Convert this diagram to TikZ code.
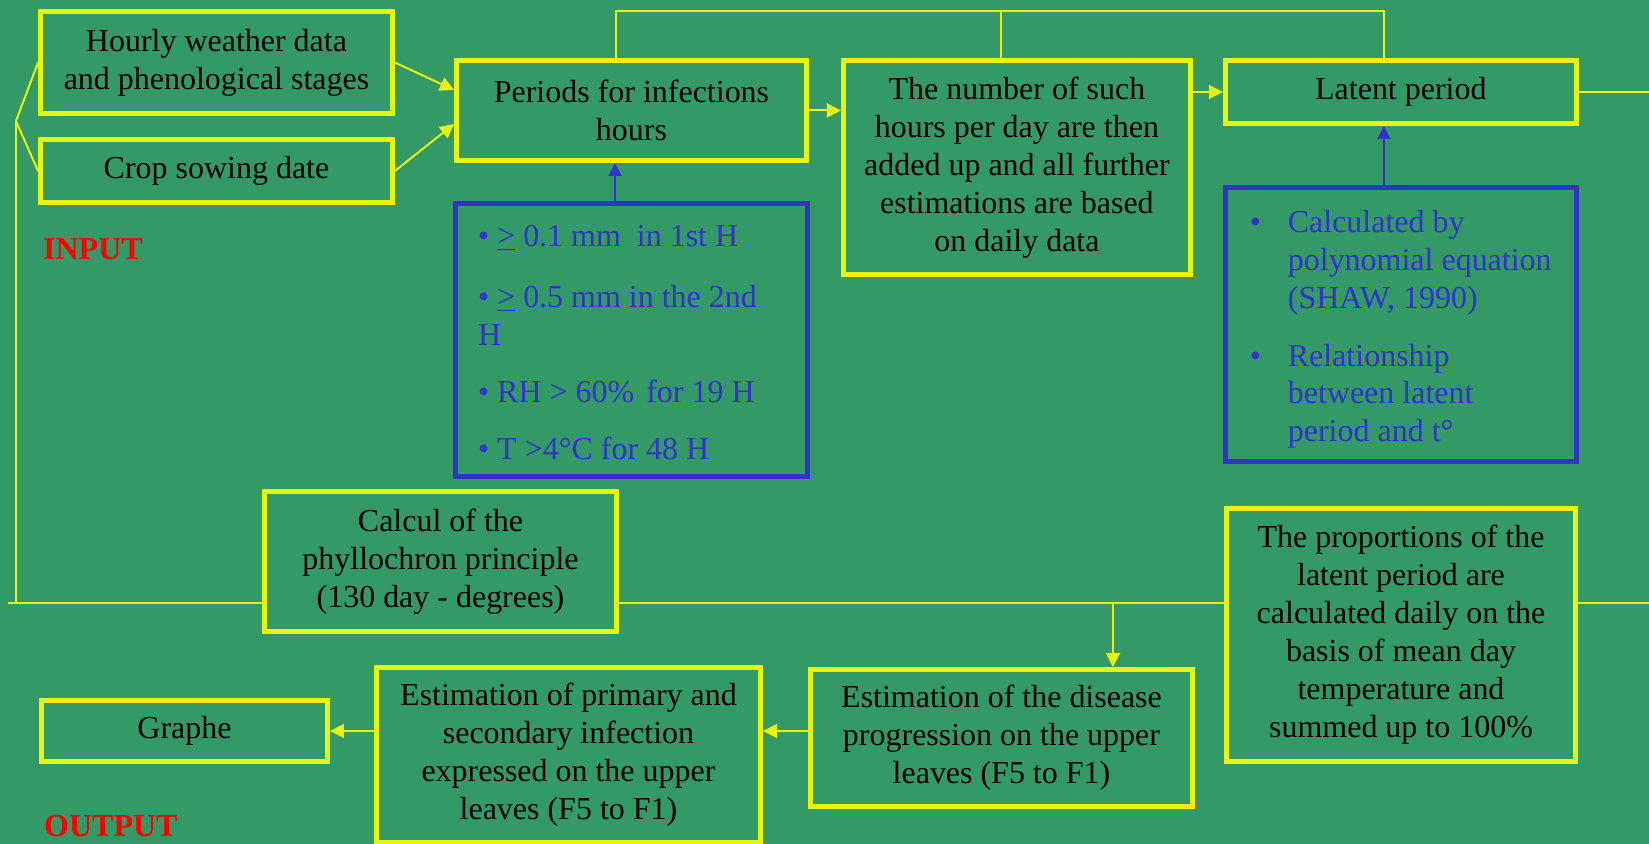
\documentclass[tikz,border=0pt]{standalone}
\usepackage{fontspec}
\setmainfont{Liberation Serif}
\usetikzlibrary{positioning,arrows.meta}
\definecolor{slide}{RGB}{51,153,102}
\definecolor{lemon}{RGB}{232,243,14}
\definecolor{ink}{RGB}{51,51,204}

\begin{document}
\begin{tikzpicture}[x=0.02cm, y=-0.02cm,
    font=\fontsize{18.2}{21.6}\selectfont,
    main/.style = {draw=lemon, line width=0.1cm, align=center, inner sep=0pt},
    crit/.style = {draw=ink, line width=0.1cm, align=flush left, inner xsep=0.45cm, text=ink},
    link/.style = {lemon, line width=0.04cm},
    arr/.style = {link, -{Triangle[length=0.28cm,width=0.28cm]}},
    blu/.style = {ink, line width=0.04cm, -{Triangle[length=0.26cm,width=0.26cm]}},
    tag/.style = {text=red, font=\fontsize{18.2}{21.6}\selectfont\bfseries, anchor=west}]
			\fill[slide] (0,0) rectangle (1649,844);
			\useasboundingbox (0,0) rectangle (1649,844);
			
			\node[main, minimum width=7.04cm, minimum height=2.04cm] (1) at (216.5,62.5) {Hourly weather data\\and phenological stages};
			\node[main, minimum width=7.04cm, minimum height=1.26cm, below=0.42cm of 1] (2) {Crop sowing date};
			\node[main, minimum width=7cm, minimum height=2cm] (3) at (631.5,110.5) {Periods for infections\\hours};
			\node[main, minimum width=6.94cm, minimum height=4.28cm, right=0.64cm of 3.north east, anchor=north west] (4) {The number of such\\hours per day are then\\added up and all further\\estimations are based\\on daily data};
			\node[main, minimum width=7.02cm, minimum height=1.26cm, right=0.6cm of 4.north east, anchor=north west] (5) {Latent period};
			\node[crit, text width=6.14cm, minimum height=5.46cm, below=0.76cm of 3] (6) {%
				• \underline{>} 0.1 mm\ \ in 1st H\\[13pt]
				• \underline{>} 0.5 mm in the 2nd\\H\\[10.8pt]
				• RH > 60\%\hspace{0.24cm}for 19 H\\[10.8pt]
				• T >4°C for 48 H\par\vspace*{-0.1cm}};
			\node[crit, inner xsep=0.36cm, text width=6.3cm, minimum height=5.48cm, below=1.18cm of 5] (7) {%
				\hspace*{0.13cm}\makebox[0.76cm][l]{•}Calculated by\\
				\hspace*{0.89cm}polynomial equation\\
				\hspace*{0.89cm}(SHAW, 1990)\\[11pt]
				\hspace*{0.13cm}\makebox[0.76cm][l]{•}Relationship\\
				\hspace*{0.89cm}between latent\\
				\hspace*{0.89cm}period and t°\par\vspace*{-0.21cm}};
			
			\node[main, minimum width=7.04cm, minimum height=2.8cm] (8) at (440.5,561.5) {Calcul of the\\phyllochron principle\\(130 day - degrees)};
			\node[main, minimum width=6.98cm, minimum height=5.06cm] (9) at (1401,635) {The proportions of the\\latent period are\\calculated daily on the\\basis of mean day\\temperature and\\summed up to 100\%};
			\node[main, minimum width=7.64cm, minimum height=2.74cm] (10) at (1001.5,738) {Estimation of the disease\\progression on the upper\\leaves (F5 to F1)};
			\node[main, minimum width=7.68cm, minimum height=3.52cm] (11) at (568.5,755) {Estimation of primary and\\secondary infection\\expressed on the upper\\leaves (F5 to F1)};
			\node[main, minimum width=5.72cm, minimum height=1.22cm] (12) at (184.5,731) {Graphe};
			
			\node[tag] (13) at (37,249) {INPUT};
			\node[tag] (14) at (38,826) {OUTPUT};
			
			\coordinate (fork) at (16,121);
			\coordinate (busL) at (8,603);
			\coordinate (busR) at (1649,603);
			\coordinate (edge) at (1649,91);
			\path ([xshift=-0.33cm]6.north) coordinate (up6);
			\path ([xshift=-0.34cm]7.north) coordinate (up7);
			\path ([xshift=2.23cm]10.north) coordinate (drop);
			
			\draw[link] (fork) -- (1.west);
			\draw[link] (fork) -- (2.west);
			\draw[link] (fork) -- (fork |- busL);
			\draw[arr] (1.east) -- ([yshift=0.41cm]3.west);
			\draw[arr] (2.east) -- ([yshift=-0.27cm]3.west);
			\draw[arr] (3.east) -- (3.east -| 4.west);
			\draw[arr] (4.east |- 5.west) -- (5.west);
			\draw[link] ([xshift=-0.31cm]3.north) -- ++(0,-47) -| ([xshift=-0.34cm]5.north);
			\draw[link] ([xshift=-0.32cm]4.north) -- ++(0,-47);
			\draw[link] (5.east) -- (5.east -| edge);
			\draw[blu] (up6) -- (up6 |- 3.south);
			\draw[blu] (up7) -- (up7 |- 5.south);
			
			\draw[link] (busL) -- (busL -| 8.west);
			\draw[link] (busL -| 8.east) -- (busL -| 9.west);
			\draw[link] (busL -| 9.east) -- (busR);
			\draw[arr] (drop |- busL) -- (drop);
			\draw[arr] (10.west |- 12.east) -- (11.east |- 12.east);
			\draw[arr] (11.west |- 12.east) -- (12.east);
			
			\end{tikzpicture}
\end{document}
